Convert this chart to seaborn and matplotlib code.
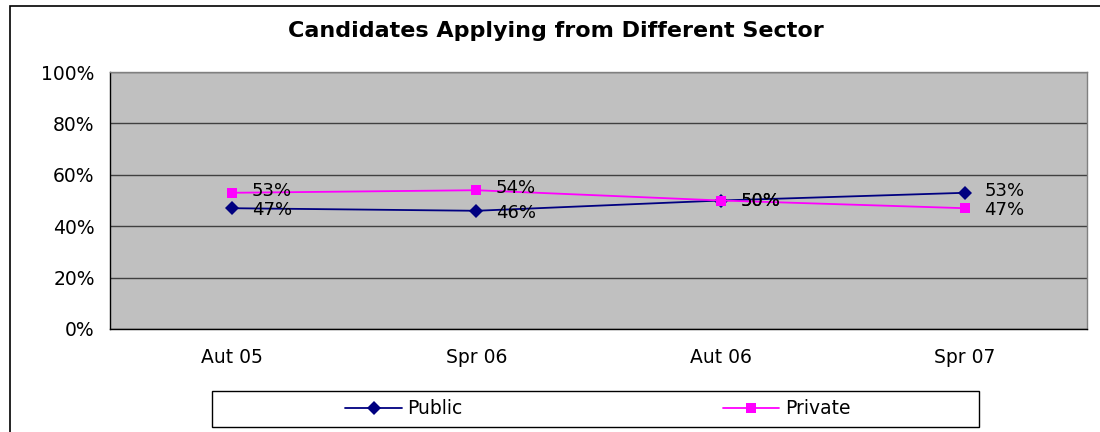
import pandas as pd
import matplotlib.pyplot as plt
import matplotlib.patches as patches
from matplotlib.ticker import FixedLocator, PercentFormatter
import seaborn as sns

# Data
terms = ["Aut 05", "Spr 06", "Aut 06", "Spr 07"]
public = [47, 46, 50, 53]
private = [53, 54, 50, 47]
yticks = [0, 20, 40, 60, 80, 100]

df = pd.DataFrame({
    "Term": terms * 2,
    "Share": public + private,
    "Sector": ["Public"] * len(terms) + ["Private"] * len(terms),
})

sns.set_style("white")
plt.rcParams['font.family'] = ['DejaVu Sans']
plt.rcParams['text.color'] = 'black'
plt.rcParams['xtick.color'] = 'black'
plt.rcParams['ytick.color'] = 'black'
plt.rcParams['xtick.labelcolor'] = 'black'
plt.rcParams['ytick.labelcolor'] = 'black'
fs = 13.5

fig = plt.figure(figsize=(11, 4.32), dpi=100)
ax = fig.add_axes([110 / 1100, 1 - 329 / 432, 977 / 1100, 257 / 432])
ax.set_facecolor("#C0C0C0")

colors = {"Public": "#000080", "Private": "#FF00FF"}
sns.lineplot(data=df, x="Term", y="Share", hue="Sector", style="Sector",
             markers={"Public": "D", "Private": "s"}, dashes=False,
             palette=colors, linewidth=1.3, markersize=7.5,
             markeredgewidth=0, ax=ax, legend=True, zorder=3)

# data labels, nudged apart a little where the two series are close
for i, t in enumerate(terms):
    for vals, other in ((public, private), (private, public)):
        dy = 0
        if vals[i] > other[i]:
            dy = 1.5
        elif vals[i] < other[i]:
            dy = -1.5
        ax.annotate(f"{vals[i]}%", (i, vals[i]), xytext=(14, dy),
                    textcoords="offset points", va="center", ha="left",
                    fontsize=13, color="black", zorder=4)

ax.set_xlim(-0.5, 3.5)
ax.set_ylim(0, 100)
ax.yaxis.set_major_locator(FixedLocator(yticks))
ax.yaxis.set_major_formatter(PercentFormatter(decimals=0))
ax.grid(axis="y", color="#404040", linewidth=1.0)
ax.set_axisbelow(True)

# ticks between categories, labels at centres
ax.xaxis.set_minor_locator(FixedLocator([-0.5, 0.5, 1.5, 2.5, 3.5]))
ax.tick_params(axis="x", which="major", length=0, pad=14, labelsize=fs)
ax.tick_params(axis="x", which="minor", length=5, width=1, color="black", direction="out")
ax.tick_params(axis="y", length=5, width=1, color="black", direction="out", pad=6, labelsize=fs)
ax.set_xlabel("")
ax.set_ylabel("")

for side in ("left", "bottom"):
    ax.spines[side].set_color("black")
    ax.spines[side].set_linewidth(1)
for side in ("top", "right"):
    ax.spines[side].set_color("#808080")
    ax.spines[side].set_linewidth(1)

fig.text(556 / 1100, 1 - 31 / 432, "Candidates Applying from Different Sector",
         ha="center", va="center", fontsize=16, fontweight="bold", color="black")

# legend
handles, labels = ax.get_legend_handles_labels()
ax.get_legend().remove()
fig.legend(handles, labels, loc="center", bbox_to_anchor=(598 / 1100, 1 - 409 / 432),
           ncol=2, frameon=False, fontsize=fs, handlelength=3, columnspacing=13.9,
           handletextpad=0.3, labelcolor="black")
fig.patches.append(patches.Rectangle((212 / 1100, 1 - 427 / 432), 767 / 1100, 36 / 432,
                                     transform=fig.transFigure, fill=False,
                                     edgecolor="black", linewidth=1))

# outer chart border
fig.patches.append(patches.Rectangle((10 / 1100, -0.1), 1.1, 1.1 - 6 / 432,
                                     transform=fig.transFigure, fill=False,
                                     edgecolor="black", linewidth=1.2))

fig.savefig("out.png", dpi=100)
